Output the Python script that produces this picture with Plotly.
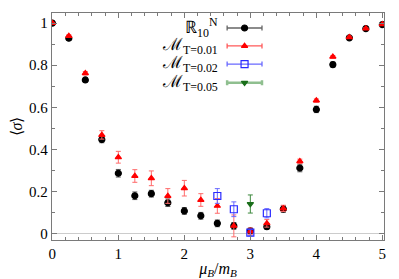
import plotly.graph_objects as go

# ---- data ----
x_r = [0, 0.25, 0.5, 0.75, 1.0, 1.25, 1.5, 1.75, 2.0, 2.25, 2.5, 2.75, 3.0, 3.25, 3.5, 3.75, 4.0, 4.25, 4.5, 4.75, 5.0]
y_r = [1.0, 0.928, 0.730, 0.447, 0.287, 0.180, 0.190, 0.147, 0.108, 0.085, 0.049, 0.037, 0.014, 0.033, 0.117, 0.312, 0.590, 0.803, 0.930, 0.974, 0.993]
e_r = [0.003, 0.008, 0.010, 0.015, 0.018, 0.018, 0.016, 0.018, 0.016, 0.016, 0.016, 0.016, 0.012, 0.012, 0.016, 0.018, 0.015, 0.012, 0.008, 0.006, 0.004]

x_m1 = [0, 0.25, 0.5, 0.75, 1.0, 1.25, 1.5, 1.75, 2.0, 2.25, 2.5, 2.75, 3.0, 3.25, 3.5, 3.75, 4.0, 4.25, 4.5, 4.75, 5.0]
y_m1 = [1.0, 0.939, 0.762, 0.469, 0.363, 0.274, 0.263, 0.179, 0.216, 0.160, 0.132, 0.037, 0.012, 0.049, 0.120, 0.344, 0.632, 0.840, 0.933, 0.974, 0.995]
e_m1 = [0.003, 0.006, 0.008, 0.020, 0.028, 0.030, 0.035, 0.035, 0.037, 0.030, 0.035, 0.052, 0.015, 0.018, 0.015, 0.010, 0.008, 0.006, 0.005, 0.004, 0.003]

x_m2 = [2.5, 2.75, 3.0, 3.25]
y_m2 = [0.179, 0.116, 0.005, 0.097]
e_m2 = [0.035, 0.035, 0.015, 0.022]

x_m5 = [3.0]
y_m5 = [0.141]
e_m5 = [0.043]

labels = ["ℝ<sub>10</sub><sup>N</sup>", "ℳ<sub>T=0.01</sub>", "ℳ<sub>T=0.02</sub>", "ℳ<sub>T=0.05</sub>"]

# ---- styles ----
series = [
    dict(x=x_r, y=y_r, e=e_r, color="#000000", ecolor="#555555", symbol="circle", size=6, lcolor="#666666", lw=1.3),
    dict(x=x_m1, y=y_m1, e=e_m1, color="#ff0000", ecolor="#ff6a6a", symbol="triangle-up", size=5.5, lcolor="#ff5a5a", lw=1.3),
    dict(x=x_m2, y=y_m2, e=e_m2, color="#2a2aff", ecolor="#6a6aff", symbol="square-open", size=7, lcolor="#6a6aff", lw=1.3),
    dict(x=x_m5, y=y_m5, e=e_m5, color="#1a6e1a", ecolor="#3f8a3f", symbol="triangle-down", size=5.5, lcolor="#8fbf8f", lw=2.5),
]

fig = go.Figure()
for s in series:
    fig.add_trace(go.Scatter(
        x=s["x"], y=s["y"], mode="markers",
        marker=dict(color=s["color"], symbol=s["symbol"], size=s["size"], line=dict(color=s["color"], width=1.2)),
        error_y=dict(type="data", array=s["e"], color=s["ecolor"], thickness=1, width=2.5),
        showlegend=False,
    ))

# ---- custom legend (symbols to the right of text) ----
leg_rows = [0.934, 0.855, 0.775, 0.693]
leg_xc = 0.580
leg_half = 0.0525
for s, lab, ry in zip(series, labels, leg_rows):
    fig.add_trace(go.Scatter(
        x=[leg_xc], y=[ry], mode="markers", xaxis="x2", yaxis="y2",
        marker=dict(color=s["color"], symbol=s["symbol"], size=s["size"], line=dict(color=s["color"], width=1.2)),
        error_x=dict(type="data", array=[leg_half], color=s["lcolor"], thickness=s["lw"], width=2.5),
        showlegend=False, hoverinfo="skip",
    ))
    fig.add_annotation(x=0.505, y=ry, xref="paper", yref="paper", text=lab, showarrow=False,
                       xanchor="right", yanchor="middle",
                       font=dict(family="Liberation Serif", size=17, color="#000"))

axcommon = dict(showline=True, linecolor="#7a7a7a", linewidth=1.3, mirror="allticks",
                ticks="inside", ticklen=5, tickcolor="#7a7a7a", tickwidth=1, automargin=False,
                showgrid=False, tickfont=dict(family="Liberation Serif", size=15, color="#000"))

fig.update_layout(
    width=391, height=271,
    margin=dict(l=44, r=15, t=5, b=39),
    paper_bgcolor="white", plot_bgcolor="white",
    xaxis=dict(range=[-0.005, 5.025], tickvals=[0, 1, 2, 3, 4, 5], zeroline=False,
               minor=dict(dtick=0.2, ticks="inside", ticklen=2.5, tickcolor="#7a7a7a"),
               title=dict(text="<i>μ<sub>B</sub></i>/<i>m<sub>B</sub></i>", standoff=2,
                          font=dict(family="Liberation Serif", size=16, color="#000")),
               **axcommon),
    yaxis=dict(range=[-0.03, 1.048], tickvals=[0, 0.2, 0.4, 0.6, 0.8, 1.0], ticktext=["0", "0.2", "0.4", "0.6", "0.8", "1"],
               zeroline=True, zerolinecolor="#cccccc", zerolinewidth=1,
               minor=dict(dtick=0.1, ticks="inside", ticklen=2.5, tickcolor="#7a7a7a"),
               title=dict(text="⟨<i>σ</i>⟩", standoff=4,
                          font=dict(family="Liberation Serif", size=16, color="#000")),
               **axcommon),
    xaxis2=dict(range=[0, 1], overlaying="x", visible=False),
    yaxis2=dict(range=[0, 1], overlaying="y", visible=False),
)

fig.write_html("out.html")
